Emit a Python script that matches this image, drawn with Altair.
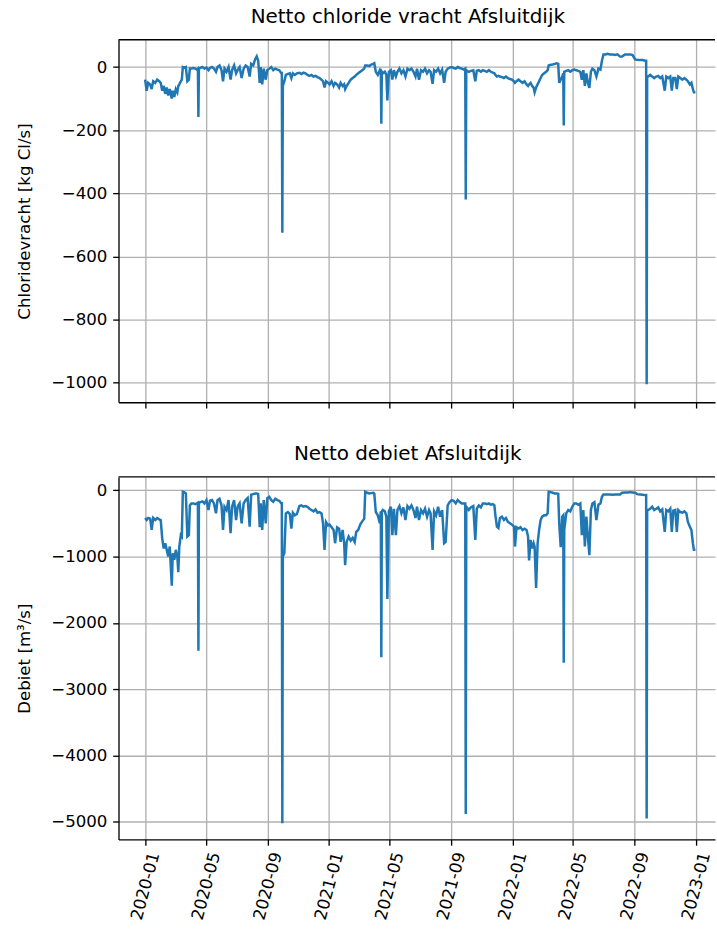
import altair as alt
import pandas as pd

# Daily series (sampled), day offsets from 2020-01-01
START = "2020-01-01"
day = [
    0, 3, 6, 10, 13, 16, 20, 24, 28, 31, 34, 37, 40, 43, 46, 49, 53, 55, 58, 61,
    64, 66, 68, 71, 73, 75, 78, 81, 84, 87, 89, 92, 96, 100, 103, 105, 106, 107, 110, 114,
    118, 122, 126, 129, 133, 137, 141, 144, 148, 152, 155, 158, 162, 166, 170, 173, 177, 181, 184, 188,
    192, 196, 200, 204, 208, 211, 215, 219, 222, 225, 228, 230, 233, 236, 240, 243, 247, 251, 255, 259,
    263, 267, 271, 272, 273, 274, 277, 280, 284, 288, 291, 294, 298, 302, 307, 311, 315, 319, 323, 327,
    331, 335, 339, 343, 347, 351, 354, 357, 360, 364, 367, 371, 375, 378, 382, 386, 389, 393, 396, 398,
    401, 405, 409, 413, 417, 420, 424, 428, 432, 436, 438, 442, 446, 450, 454, 456, 459, 463, 467, 469,
    470, 471, 473, 477, 480, 482, 485, 489, 492, 495, 499, 502, 506, 510, 514, 518, 522, 526, 530, 534,
    538, 541, 545, 549, 553, 557, 561, 565, 568, 572, 575, 579, 583, 587, 591, 595, 598, 602, 606, 610,
    614, 618, 622, 626, 630, 634, 637, 638, 639, 644, 648, 653, 657, 660, 664, 668, 672, 676, 680, 684,
    688, 692, 695, 697, 700, 703, 706, 710, 714, 718, 722, 726, 730, 734, 736, 739, 743, 747, 751, 755,
    759, 762, 764, 767, 770, 773, 775, 778, 781, 784, 787, 790, 794, 798, 801, 803, 807, 811, 815, 819,
    822, 824, 827, 830, 832, 833, 834, 838, 842, 846, 850, 854, 858, 862, 866, 869, 872, 875, 878, 881,
    884, 887, 890, 894, 898, 902, 906, 909, 912, 916, 920, 925, 930, 935, 940, 945, 949, 955, 960, 965,
    970, 975, 979, 985, 990, 995, 997, 998, 999, 1001, 1005, 1009, 1013, 1017, 1021, 1025, 1029, 1034, 1037, 1041,
    1045, 1048, 1051, 1055, 1058, 1061, 1065, 1069, 1073, 1077, 1080, 1084, 1087, 1090, 1092, 1095,
]

# Netto chloridevracht [kg Cl/s]
chloride = [
    -40, -75, -50, -55, -70, -45, -50, -40, -45, -50, -75, -60, -85, -65, -90, -70, -100, -75, -95, -70,
    -80, -60, -55, -45, -40, 0, -2, 0, -45, -40, -5, -5, -3, -5, -8, -5, -158, -5, -3, 0,
    -5, -2, -10, -3, 0, -5, -15, 0, 5, -10, -45, -5, -15, 0, -40, -10, 5, -20, -10, 0,
    -35, -5, 5, 0, -30, 10, 5, 25, 34, 20, -50, 0, -55, -5, -40, -10, -5, 0, -10, -5,
    -8, -10, -20, -15, -525, -60, -45, -25, -22, -20, -35, -20, -25, -20, -18, -22, -18, -20, -25, -28,
    -25, -30, -28, -32, -35, -40, -45, -65, -45, -50, -55, -45, -60, -50, -55, -65, -50, -60, -55, -70,
    -60, -50, -40, -35, -30, -25, -20, -15, -10, -5, 5, 5, 3, 8, 10, 12, -15, -25, -10, -15,
    -180, -15, -20, -15, -25, -106, -15, -10, -40, -10, -30, -15, -5, -20, -10, -30, -5, -10, -5, -15,
    -30, -5, -40, -10, -15, -5, -20, -10, -15, -53, -10, -15, -5, -20, -8, -50, -15, -5, -2, 0,
    -3, -5, 0, -3, -5, -8, -5, -420, -10, -15, -12, -10, -45, -12, -10, -15, -10, -12, -15, -10,
    -15, -18, -20, -25, -30, -28, -30, -32, -35, -30, -35, -38, -40, -45, -50, -45, -40, -45, -50, -45,
    -55, -60, -55, -50, -60, -65, -80, -65, -55, -45, -35, -25, -20, -15, -10, 5, 7, 8, 10, 12,
    10, -50, -40, -30, -20, -185, -15, -12, -10, -15, -10, -8, -10, -12, -15, -40, -10, -60, -20, -50,
    -66, -15, -5, -10, -30, -5, -8, 20, 40, 40, 42, 40, 40, 38, 40, 33, 33, 40, 40, 40,
    38, 24, 23, 22, 22, 20, 20, -1005, -30, -30, -25, -30, -35, -30, -28, -35, -30, -75, -30, -35,
    -30, -75, -35, -35, -70, -30, -35, -40, -35, -40, -45, -55, -50, -70, -80, -80,
]

# Netto debiet [m3/s]
debiet = [
    -420, -450, -420, -430, -600, -420, -450, -420, -440, -450, -730, -880, -800, -900, -1000, -850, -1440, -950, -1050, -900,
    -1000, -1235, -850, -680, -700, -25, -35, -50, -700, -680, -230, -200, -200, -210, -200, -190, -2420, -190, -180, -170,
    -200, -150, -300, -160, -150, -200, -350, -150, -130, -230, -600, -250, -300, -150, -650, -250, -150, -450, -250, -200,
    -500, -200, -150, -120, -550, -70, -60, -50, -50, -60, -560, -200, -600, -150, -500, -120, -100, -150, -175, -130,
    -150, -160, -200, -180, -5020, -1000, -950, -350, -330, -360, -580, -340, -380, -360, -240, -230, -250, -240, -250, -280,
    -300, -320, -290, -340, -330, -350, -500, -900, -480, -530, -520, -560, -600, -800, -560, -580, -780, -600, -800, -1130,
    -780, -700, -760, -720, -780, -630, -600, -520, -470, -430, -25, -40, -50, -45, -40, -50, -330, -380, -500, -320,
    -2520, -320, -300, -320, -400, -1640, -320, -250, -680, -280, -680, -300, -240, -350, -260, -450, -240, -280, -230, -300,
    -420, -250, -450, -300, -350, -280, -400, -300, -350, -900, -320, -380, -250, -400, -300, -800, -780, -230, -180, -150,
    -160, -200, -150, -180, -200, -200, -200, -4880, -250, -300, -260, -240, -750, -280, -230, -260, -200, -200, -210, -200,
    -220, -210, -230, -380, -550, -570, -420, -400, -450, -420, -480, -500, -520, -550, -850, -560, -580, -560, -600, -580,
    -600, -700, -1060, -750, -880, -800, -850, -1475, -800, -600, -450, -400, -380, -380, -350, -25, -30, -40, -50, -50,
    -55, -500, -860, -400, -380, -2600, -600, -350, -300, -320, -250, -200, -200, -220, -200, -680, -300, -850, -400, -700,
    -980, -300, -200, -180, -450, -220, -200, -100, -65, -65, -65, -65, -68, -65, -65, -65, -40, -35, -35, -30,
    -35, -40, -60, -65, -70, -75, -75, -4950, -300, -300, -280, -250, -300, -280, -260, -320, -290, -630, -300, -320,
    -280, -630, -310, -300, -630, -300, -330, -340, -320, -350, -480, -550, -600, -800, -900, -900,
]

dates = (pd.Timestamp(START) + pd.to_timedelta(day, unit="D")).strftime("%Y-%m-%d")
df = pd.DataFrame({"datum": dates, "chloride": chloride, "debiet": debiet})

W = 599
H = 364
BLUE = "#1f77b4"
FONT = "DejaVu Sans"

tick_dates = [alt.DateTime(year=y, month=m, date=1, utc=True)
              for y, m in [(2020, 1), (2020, 5), (2020, 9), (2021, 1), (2021, 5),
                           (2021, 9), (2022, 1), (2022, 5), (2022, 9), (2023, 1)]]
x_scale = alt.Scale(type="utc", domain=[alt.DateTime(year=2019, month=11, date=9, utc=True),
                                        alt.DateTime(year=2023, month=2, date=8, utc=True)])


def top_spine():
    return alt.Chart(alt.Data(values=[{"k": 0}])).mark_rule(color="black", strokeWidth=1.33).encode(
        x=alt.value(0), x2=alt.value(W), y=alt.value(0)
    )


x_top = alt.X("datum:T", scale=x_scale,
              axis=alt.Axis(values=tick_dates, labels=False, title=None))
x_bottom = alt.X("datum:T", scale=x_scale,
                 axis=alt.Axis(values=tick_dates, title=None,
                               labelExpr="utcFormat(datum.value, '%Y-%m')",
                               labelAngle=285, labelAlign="right", labelBaseline="middle",
                               labelOffset=9, labelPadding=7))

chl_line = alt.Chart(df).mark_line(color=BLUE, strokeWidth=2.5, clip=True).encode(
    x=x_top,
    y=alt.Y("chloride:Q",
            scale=alt.Scale(domain=[-1062, 86.4], nice=False, zero=False),
            axis=alt.Axis(values=[0, -200, -400, -600, -800, -1000], format="d",
                          title="Chloridevracht [kg Cl/s]")),
)
top = alt.layer(chl_line, top_spine()).properties(
    width=W, height=H,
    title=alt.TitleParams("Netto chloride vracht Afsluitdijk", dx=-9),
)

deb_line = alt.Chart(df).mark_line(color=BLUE, strokeWidth=2.5, clip=True).encode(
    x=x_bottom,
    y=alt.Y("debiet:Q",
            scale=alt.Scale(domain=[-5264, 199], nice=False, zero=False),
            axis=alt.Axis(values=[0, -1000, -2000, -3000, -4000, -5000], format="d",
                          title="Debiet [m³/s]")),
)
bottom = alt.layer(deb_line, top_spine()).properties(
    width=W, height=H,
    title=alt.TitleParams("Netto debiet Afsluitdijk", dx=-9),
)

chart = alt.vconcat(top, bottom, spacing=34).properties(
    padding={"left": 16, "top": 4, "right": 0, "bottom": 0}
).configure_view(
    stroke="transparent"
).configure_axis(
    labelFont=FONT, labelFontSize=16.7, labelColor="black",
    titleFont=FONT, titleFontSize=16.7, titleColor="black", titleFontWeight="normal",
    titlePadding=17,
    tickColor="black", tickSize=5.8, tickWidth=1.33,
    domainColor="black", domainWidth=1.33,
    gridColor="#b0b0b0", gridWidth=1.33,
    labelPadding=5.8,
).configure_title(
    font=FONT, fontSize=20, fontWeight="normal", color="black",
    offset=12, baseline="alphabetic", anchor="middle"
)

chart.save("out.html", embed_options={"renderer": "svg", "actions": False})
